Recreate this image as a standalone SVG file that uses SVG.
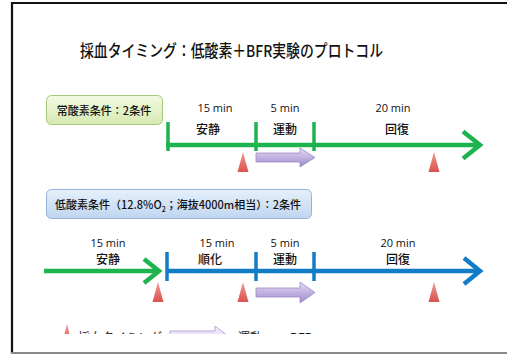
<svg xmlns="http://www.w3.org/2000/svg" width="507" height="354" viewBox="0 0 507 354">
<style>
.jp{font-family:"Noto Sans CJK JP","Noto Sans",sans-serif;fill:#111}
.t{font-size:12px;text-anchor:middle}
.m{font-family:"Open Sans","Noto Sans",sans-serif;font-size:11px;text-anchor:middle;fill:#111}
.g{stroke:#1db34f;fill:none}
.b{stroke:#127cc6;fill:none}
.tri{fill:url(#red)}
.pur{fill:url(#pg);stroke:#9d8cc4;stroke-width:0.8}
</style>
<defs>
<linearGradient id="red" x1="0" y1="0" x2="0" y2="1"><stop offset="0" stop-color="#f09a92"/><stop offset="1" stop-color="#d9534c"/></linearGradient>
<linearGradient id="pg" x1="0" y1="0" x2="0" y2="1"><stop offset="0" stop-color="#e4dbf3"/><stop offset="0.5" stop-color="#c2b2e2"/><stop offset="1" stop-color="#9e88cb"/></linearGradient>
<linearGradient id="gbox" x1="0" y1="0" x2="0" y2="1"><stop offset="0" stop-color="#f3f9e4"/><stop offset="1" stop-color="#d5eab0"/></linearGradient>
<linearGradient id="bbox" x1="0" y1="0" x2="0" y2="1"><stop offset="0" stop-color="#e6f0fb"/><stop offset="1" stop-color="#bfd6f0"/></linearGradient>
<linearGradient id="lg" x1="0" y1="0" x2="0" y2="1"><stop offset="0" stop-color="#f3eefb"/><stop offset="1" stop-color="#ddd0f2"/></linearGradient>
<clipPath id="clip"><rect x="14" y="0" width="493" height="334"/></clipPath>
</defs>
<rect width="507" height="354" fill="#fff"/>
<g id="frame">
<line x1="12" y1="2" x2="12" y2="354" stroke="#111" stroke-width="2.2"/>
<line x1="11" y1="3" x2="507" y2="3" stroke="#111" stroke-width="2.2"/>
<line x1="11" y1="353" x2="507" y2="353" stroke="#8a8a8a" stroke-width="2"/>
</g>
<g id="title">
<text class="jp" x="80" y="57" font-size="16.5" font-weight="500" textLength="303" lengthAdjust="spacingAndGlyphs">採血タイミング：低酸素＋BFR実験のプロトコル</text>
</g>
<g id="normoxia-label">
<rect x="46.5" y="95.5" width="116" height="29" rx="5" fill="url(#gbox)" stroke="#a8c77c" stroke-width="1"/>
<text class="jp" x="104" y="115" font-size="11" font-weight="500" text-anchor="middle">常酸素条件：2条件</text>
</g>
<g id="hypoxia-label">
<rect x="46.5" y="189.5" width="265" height="29" rx="5" fill="url(#bbox)" stroke="#95b3d7" stroke-width="1"/>
<text class="jp" x="178" y="209" font-size="11" font-weight="500" text-anchor="middle">低酸素条件（12.8%O<tspan font-size="7" dy="3">2</tspan><tspan dy="-3">；海抜4000m相当）：2条件</tspan></text>
</g>
<g id="connectors">
<line class="g" x1="166" y1="145" x2="480" y2="145" stroke-width="4.5"/>
<polyline class="g" points="463,131.5 480,145 463,158.5" stroke-width="4.5"/>
<line class="g" x1="168" y1="122" x2="168" y2="151" stroke-width="3.5"/>
<line class="g" x1="256" y1="122" x2="256" y2="151" stroke-width="3.5"/>
<line class="g" x1="314" y1="122" x2="314" y2="151" stroke-width="3.5"/>
<line class="g" x1="44" y1="271" x2="158" y2="271" stroke-width="4.5"/>
<polyline class="g" points="144,259 159,271 144,283" stroke-width="4.5"/>
<line class="b" x1="166" y1="271" x2="480" y2="271" stroke-width="4.5"/>
<polyline class="b" points="464,258 480,271 464,284" stroke-width="4.5"/>
<line class="b" x1="167" y1="252" x2="167" y2="281" stroke-width="3.5"/>
<line class="b" x1="256" y1="252" x2="256" y2="281" stroke-width="3.5"/>
<line class="b" x1="314" y1="252" x2="314" y2="281" stroke-width="3.5"/>
</g>
<g id="normoxia-phases">
<text class="m" x="215" y="112">15 min</text>
<text class="m" x="285" y="112">5 min</text>
<text class="m" x="393" y="112">20 min</text>
<text class="jp t" x="208" y="134" font-weight="500">安静</text>
<text class="jp t" x="285" y="134" font-weight="500">運動</text>
<text class="jp t" x="397" y="134" font-weight="500">回復</text>
</g>
<g id="hypoxia-phases">
<text class="m" x="108" y="247">15 min</text>
<text class="m" x="217" y="247">15 min</text>
<text class="m" x="285" y="247">5 min</text>
<text class="m" x="398" y="247">20 min</text>
<text class="jp t" x="108" y="264" font-weight="500">安静</text>
<text class="jp t" x="210" y="264" font-weight="500">順化</text>
<text class="jp t" x="285" y="264" font-weight="500">運動</text>
<text class="jp t" x="398" y="264" font-weight="500">回復</text>
</g>
<g id="sampling-1">
<polygon class="tri" points="243,152 248.5,172 237.5,172"/>
<polygon class="tri" points="434,152 439.5,172 428.5,172"/>
</g>
<g id="exercise-1">
<polygon class="pur" points="256,153 300,153 300,148 315,157.5 300,167 300,162 256,162"/>
</g>
<g id="sampling-2">
<polygon class="tri" points="158,282 163.5,302 152.5,302"/>
<polygon class="tri" points="243,282 248.5,302 237.5,302"/>
<polygon class="tri" points="434,282 439.5,302 428.5,302"/>
</g>
<g id="exercise-2">
<polygon class="pur" points="256,288 300,288 300,282 315,292.5 300,303 300,297 256,297"/>
</g>
<g id="legend" clip-path="url(#clip)">
<polygon class="tri" points="67,324 72,344 62,344"/>
<text class="jp" x="78" y="342" font-size="12">採血タイミング</text>
<polygon points="170,331 215,331 215,326 228,336 215,346 215,341 170,341" fill="url(#lg)" stroke="#b9a6dd" stroke-width="1"/>
<text class="jp" x="238" y="342" font-size="12">運動</text>
<text class="jp" x="290" y="342" font-size="12">BFR</text>
</g>
</svg>
